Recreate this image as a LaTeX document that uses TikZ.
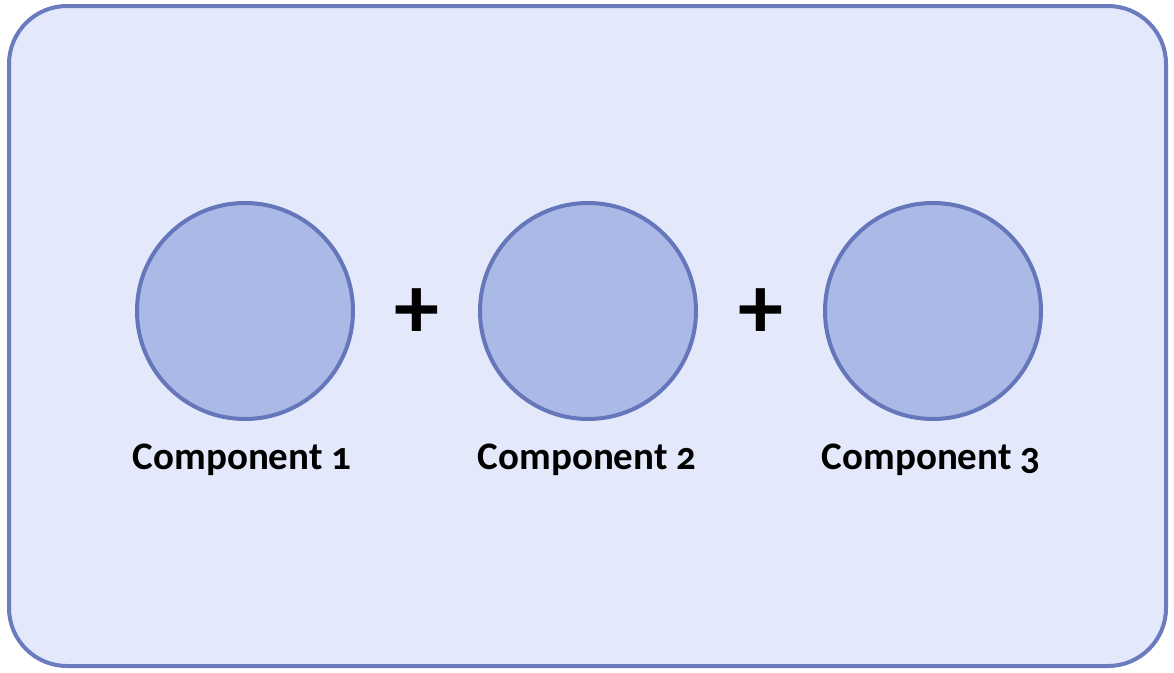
\documentclass[tikz,border=0pt]{standalone}
\usepackage{fontspec}
\setmainfont{Carlito}[Numbers=OldStyle]
\definecolor{panelfill}{HTML}{E3E8FA}
\definecolor{panelline}{HTML}{6A7BBE}
\definecolor{discfill}{HTML}{AAB9E5}
\definecolor{discline}{HTML}{6576BB}
\tikzset{
  panel/.style={draw=panelline, fill=panelfill, line width=4pt, rounded corners=58pt},
  disc/.style={circle, draw=discline, fill=discfill, line width=4pt, minimum size=216pt, inner sep=0pt},
  caption/.style={anchor=base, font=\fontsize{39}{44}\selectfont\bfseries, text=black},
  plus/.style={font=\fontsize{90}{96}\selectfont\bfseries, text=black}
}
\begin{document}
\begin{tikzpicture}[x=1pt, y=-1pt]
  \useasboundingbox (0,0) rectangle (1174,672);
  \draw[panel] (9,6) rectangle (1166,666);
  \node[disc] (c1) at (245,311) {};
  \node[disc] (c2) at (588,311) {};
  \node[disc] (c3) at (933,311) {};
  \node[plus] (p1) at (417,314) {+};
  \node[plus] (p2) at (761,314) {+};
  \node[caption] (l1) at (242,469) {Component 1};
  \node[caption] (l2) at (587,469) {Component 2};
  \node[caption] (l3) at (931,469) {Component 3};
\end{tikzpicture}
\end{document}
